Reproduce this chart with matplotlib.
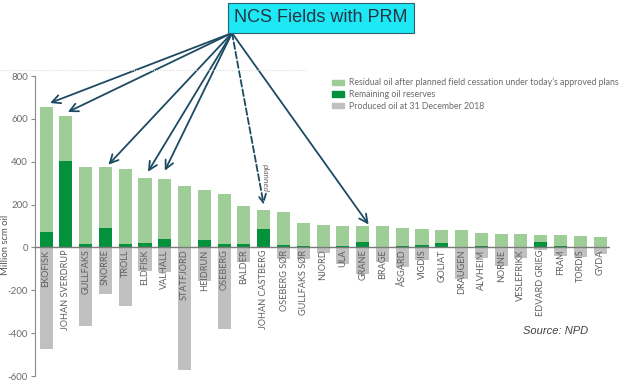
import matplotlib
matplotlib.use("Agg")
import matplotlib.pyplot as plt
from matplotlib.patches import Patch
from matplotlib.lines import Line2D

fields = ["EKOFISK", "JOHAN SVERDRUP", "GULLFAKS", "SNORRE", "TROLL", "ELDFISK",
          "VALHALL", "STATFJORD", "HEIDRUN", "OSEBERG", "BALDER", "JOHAN CASTBERG",
          "OSEBERG SØR", "GULLFAKS SØR", "NJORD", "ULA", "GRANE", "BRAGE", "ÅSGARD",
          "VIGDIS", "GOLIAT", "DRAUGEN", "ALVHEIM", "NORNE", "VESLEFRIKK",
          "EDVARD GRIEG", "FRAM", "TORDIS", "GYDA"]
# total in-place (reserves + residual), remaining reserves, produced (negative)
total_in_place = [654, 613, 377, 374, 368, 325, 318, 286, 270, 250, 194, 174,
                  166, 113, 106, 101, 98, 98, 92, 85, 82, 82, 68, 65, 64, 59, 59, 54, 50]
reserves = [73, 405, 17, 90, 14, 22, 40, 1, 34, 17, 14, 87,
            12, 9, 2, 8, 26, 1, 8, 11, 20, 1, 9, 1, 1, 25, 6, 2, 1]
produced = [-474, 0, -365, -217, -272, -112, -115, -571, -158, -380, -67, 0,
            -53, -53, -28, -75, -125, -70, -90, -60, 0, -145, -50, -88, -50,
            -12, -38, -45, -30]
residual = [t - r for t, r in zip(total_in_place, reserves)]

legend_labels = ["Residual oil after planned field cessation under today’s approved plans",
                 "Remaining oil reserves",
                 "Produced oil at 31 December 2018"]
yticks = [-600, -400, -200, 0, 200, 400, 600, 800]

c_light = "#9fcd98"
c_dark = "#03913c"
c_gray = "#c0c0c0"
c_arrow = "#1d4a63"
c_text = "#6b6b6b"
FONT = "Lato"

W, H = 626, 381
fig = plt.figure(figsize=(W / 100, H / 100), dpi=100)
ax = fig.add_axes([35 / W, 1 - 376 / H, (610 - 35) / W, 300 / H])

x = list(range(len(fields)))
bw = 0.66
ax.bar(x, reserves, bw, color=c_dark, zorder=2)
ax.bar(x, residual, bw, bottom=reserves, color=c_light, zorder=2)
ax.bar(x, produced, bw, color=c_gray, zorder=2)
ax.axhline(0, color="#7a7a7a", lw=1.0, zorder=3)

ax.set_ylim(-600, 800)
ax.set_xlim(-0.56, len(fields) - 0.5)
ax.set_yticks(yticks)
ax.set_yticklabels([str(v) for v in yticks], family=FONT)
ax.tick_params(axis="y", colors="#8a8a8a", labelcolor=c_text, labelsize=7,
               length=3, width=0.8, pad=2)
ax.tick_params(axis="x", bottom=False, labelbottom=False)
for s in ["top", "right", "bottom"]:
    ax.spines[s].set_visible(False)
ax.spines["left"].set_color("#8a8a8a")
ax.spines["left"].set_linewidth(0.8)

for i, name in enumerate(fields):
    ax.text(i, -10, name, rotation=90, ha="center", va="top", fontsize=6.6,
            family=FONT, color="#5f5f5f", zorder=4)

fig.text(6 / W, 1 - 245 / H, "Million scm oil", rotation=90, ha="center",
         va="center", fontsize=6.8, family=FONT, color="#555555")

handles = [Patch(color=c_light), Patch(color=c_dark), Patch(color=c_gray)]
leg = fig.legend(handles, legend_labels, loc="upper left",
                 bbox_to_anchor=(332 / W, 1 - 78 / H), frameon=False,
                 prop={"family": FONT, "size": 6.3},
                 labelcolor=c_text, handlelength=1.4, handleheight=0.6,
                 handletextpad=0.5, labelspacing=0.3, borderaxespad=0, borderpad=0)

fig.add_artist(Line2D([0, 306 / W], [1 - 70 / H, 1 - 70 / H], color="#dddddd",
                      lw=0.8, ls=(0, (1, 1))))

fig.text(321 / W, 1 - 18 / H, "NCS Fields with PRM", ha="center", va="center",
         fontsize=13, family="Liberation Sans", color="#253545", zorder=10,
         bbox=dict(boxstyle="square,pad=0.35", facecolor="#1ee8f4",
                   edgecolor="#2a6070", lw=0.8))

origin = (232 / W, 1 - 33 / H)
targets = [(0.2, 674), (1.1, 632), (3.15, 386), (5.15, 353), (6.0, 358), (16.3, 107)]
for tx, ty in targets:
    ax.annotate("", xy=(tx, ty), xycoords="data", xytext=origin,
                textcoords="figure fraction",
                arrowprops=dict(arrowstyle="->,head_length=0.6,head_width=0.3",
                                color=c_arrow, lw=1.3, shrinkA=0, shrinkB=0),
                annotation_clip=False)
ax.annotate("", xy=(11.0, 200), xycoords="data", xytext=origin,
            textcoords="figure fraction",
            arrowprops=dict(arrowstyle="->,head_length=0.6,head_width=0.3",
                            color=c_arrow, lw=1.3, ls="--", shrinkA=0, shrinkB=0),
            annotation_clip=False)
fig.text(265 / W, 1 - 178 / H, "planned", rotation=-90, ha="center", va="center",
         fontsize=6, style="italic", family=FONT, color="#666666")

fig.text(556 / W, 1 - 331 / H, "Source: NPD", ha="center", va="center",
         fontsize=8, style="italic", family="Liberation Sans", color="#404040")

fig.savefig("out.png", dpi=100)
